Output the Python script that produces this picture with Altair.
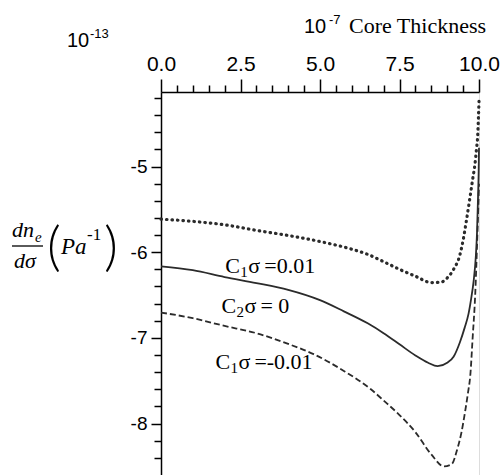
import altair as alt
import pandas as pd

# ---- data ----
x_dot = [0, 1, 2, 3, 4, 5, 6, 6.5, 7, 7.5, 8, 8.5, 8.8, 9.0, 9.2, 9.4, 9.5, 9.6, 9.7, 9.8, 9.87, 9.92, 9.96, 9.98, 10]
y_dot = [-5.614, -5.64, -5.68, -5.745, -5.805, -5.875, -5.965, -6.025, -6.11, -6.20, -6.28, -6.354, -6.35, -6.30, -6.20,
         -6.03, -5.86, -5.64, -5.40, -5.15, -4.98, -4.80, -4.63, -4.45, -4.24]

x_sol = [0, 1, 2, 3, 4, 5, 5.75, 6.5, 7, 7.5, 8, 8.4, 8.7, 9.0, 9.2, 9.4, 9.55, 9.67, 9.75, 9.83, 9.9, 9.94, 9.97, 9.99, 10]
y_sol = [-6.165, -6.21, -6.29, -6.36, -6.44, -6.56, -6.69, -6.83, -6.945, -7.075, -7.205, -7.29, -7.33, -7.29, -7.22,
         -7.05, -6.88, -6.72, -6.55, -6.34, -6.05, -5.75, -5.35, -5.05, -4.78]

x_das = [0, 1, 2, 3, 4, 4.8, 5.75, 6.6, 7, 7.5, 8, 8.5, 8.9, 9.15, 9.3, 9.45, 9.55, 9.65, 9.73, 9.8, 9.88, 9.94, 9.98, 10]
y_das = [-6.704, -6.77, -6.86, -6.945, -7.07, -7.19, -7.385, -7.60, -7.73, -7.90, -8.10, -8.36, -8.50, -8.47, -8.32,
         -8.10, -7.89, -7.65, -7.42, -7.0, -6.5, -5.9, -5.45, -5.2]

x_ticks = [round(0.5 * i, 1) for i in range(21)]
y_ticks = [round(-4.2 - 0.2 * i, 1) for i in range(22)]

label_texts = ["=0.01", "= 0", "=-0.01"]
label_subs = ["1", "2", "1"]

SANS = "Liberation Sans, Arial, sans-serif"
SERIF = "Liberation Serif, Times New Roman, DejaVu Serif, serif"
INK = "#2b2b2b"

xs = alt.Scale(domain=[0, 10], nice=False, zero=False)
ys = alt.Scale(domain=[-8.6, -4.13], nice=False, zero=False)

x_axis = alt.Axis(
    orient="top", values=x_ticks, title=None, grid=False,
    labelExpr="abs(datum.value/2.5 - round(datum.value/2.5)) < 0.001 ? format(datum.value, '.1f') : ''",
    tickSize={"condition": {"test": "abs(datum.value/2.5 - round(datum.value/2.5)) < 0.001", "value": 13}, "value": 7},
    labelFont=SANS, labelFontSize=21, labelColor="black", labelPadding=5,
    domainColor="black", domainWidth=1.5, tickColor="black", tickWidth=1.5,
    labelFlush=False, labelOverlap=False,
)
y_axis = alt.Axis(
    orient="left", values=y_ticks, title=None, grid=False,
    labelExpr="abs(datum.value - round(datum.value)) < 0.001 ? '-' + format(abs(datum.value), 'd') : ''",
    tickSize={"condition": {"test": "abs(datum.value - round(datum.value)) < 0.001", "value": 10}, "value": 7},
    labelFont=SANS, labelFontSize=19, labelColor="black", labelPadding=4,
    domainColor="black", domainWidth=1.5, tickColor="black", tickWidth=1.5,
    labelFlush=False, labelOverlap=False,
)


def curve(xv, yv, **mk):
    df = pd.DataFrame({"x": xv, "y": yv})
    return alt.Chart(df).mark_line(interpolate="monotone", color=INK, **mk).encode(
        x=alt.X("x:Q", scale=xs, axis=x_axis),
        y=alt.Y("y:Q", scale=ys, axis=y_axis),
    )


dotted = curve(x_dot, y_dot, strokeWidth=3.2, strokeDash=[0.5, 5.0], strokeCap="round")
solid = curve(x_sol, y_sol, strokeWidth=1.8)
dashed = curve(x_das, y_das, strokeWidth=1.8, strokeDash=[6, 3])

# curve labels, positioned in data units
lab_x = [2.02, 1.90, 1.71]
lab_y = [-6.24, -6.708, -7.361]
lab_df = pd.DataFrame({"x": lab_x, "y": lab_y, "txt": label_texts, "sub": label_subs,
                       "c": ["C", "C", "C"], "s": ["\u03c3", "\u03c3", "\u03c3"]})


def lab_layer(field, size, dx, dy):
    return alt.Chart(lab_df).mark_text(font=SERIF, fontSize=size, align="left", baseline="alphabetic",
                                       dx=dx, dy=dy, color="black").encode(
        x=alt.X("x:Q", scale=xs, axis=x_axis), y=alt.Y("y:Q", scale=ys, axis=y_axis), text=f"{field}:N")


labs = [lab_layer("c", 22, 0, 0), lab_layer("sub", 15, 15, 4), lab_layer("s", 22, 23, 0), lab_layer("txt", 22, 39, 0)]


def txt(t, px, py, size, font=SERIF, style="normal", weight="normal"):
    return alt.Chart(pd.DataFrame({"t": [t]})).mark_text(
        font=font, fontSize=size, fontStyle=style, fontWeight=weight, align="left",
        baseline="alphabetic", color="black").encode(
        text="t:N", x=alt.value(px - 161), y=alt.value(py - 92))


PAREN = "Lato, Open Sans, sans-serif"
texts = [
    txt("10", 67, 47, 20, SANS),
    txt("-13", 90, 38, 13, SANS),
    txt("10", 304, 33, 20, SANS),
    txt("-7", 329, 24, 13, SANS),
    txt("Core Thickness", 349, 33, 22, SERIF),
    txt("dn", 12, 237, 22, SERIF, "italic"),
    txt("e", 35, 242, 15, SERIF, "italic"),
    txt("d\u03c3", 14, 268, 22, SERIF, "italic"),
    txt("(", 47, 265, 54, PAREN, weight=300),
    txt("Pa", 61, 254, 23, SERIF, "italic"),
    txt("-1", 87, 240, 17, SERIF),
    txt(")", 104, 265, 54, PAREN, weight=300),
]

bar = alt.Chart(pd.DataFrame({"a": [0]})).mark_rule(color="black", strokeWidth=1.3).encode(
    x=alt.value(12 - 161), x2=alt.value(43 - 161), y=alt.value(246 - 92))

chart = alt.layer(dotted, solid, dashed, *labs, *texts, bar).properties(
    width=318, height=383,
    autosize=alt.AutoSizeParams(type="none"),
    padding={"left": 161, "top": 92, "right": 21, "bottom": 0},
).configure_view(stroke=None).configure(background="white")

chart.save("out.html", embed_options={"renderer": "svg", "actions": False})
